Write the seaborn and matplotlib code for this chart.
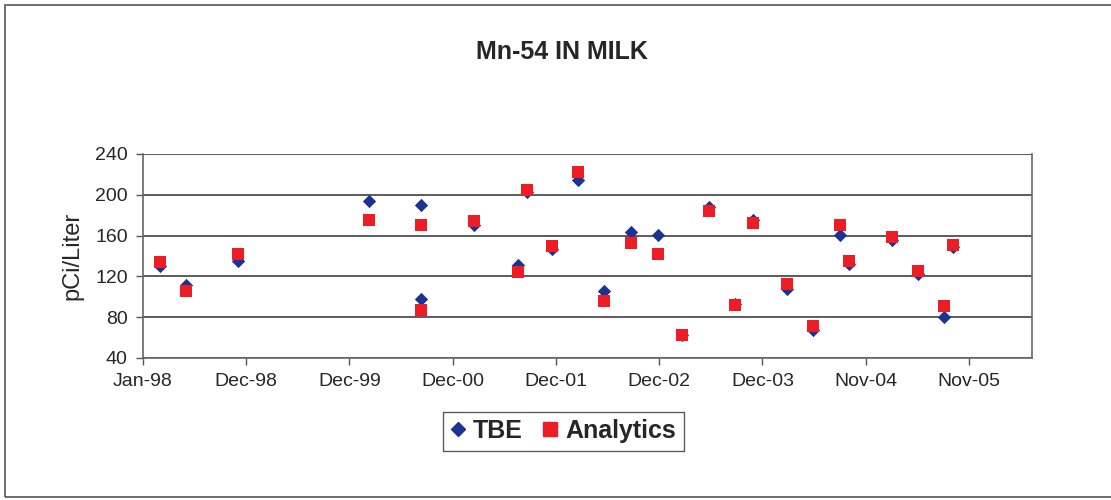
import pandas as pd
import matplotlib
matplotlib.use('Agg')
import matplotlib.pyplot as plt
import matplotlib.dates as mdates
from matplotlib.patches import Rectangle
from matplotlib.lines import Line2D
import seaborn as sns

# sample dates and results
sample_dates = ['1998-03-01', '1998-05-31', '1998-11-29', '2000-02-28', '2000-08-29',
                '2000-08-29', '2001-03-01', '2001-08-02', '2001-08-31', '2001-11-28',
                '2002-02-27', '2002-05-27', '2002-08-31', '2002-12-02', '2003-02-23',
                '2003-05-28', '2003-08-26', '2003-10-29', '2004-02-24', '2004-05-27',
                '2004-08-29', '2004-09-27', '2005-02-26', '2005-05-27', '2005-08-25',
                '2005-09-25']
tbe = [130, 112, 135, 194, 190, 98, 170, 131, 203, 147, 215, 106, 164,
       161, 63, 188, 93, 175, 108, 67, 161, 132, 156, 122, 80, 149]
analytics = [134, 106, 142, 175, 170, 87, 174, 124, 205, 150, 222, 96, 153,
             142, 63, 184, 92, 172, 113, 71, 170, 135, 159, 125, 91, 151]
y_ticks = [40, 80, 120, 160, 200, 240]

df = pd.DataFrame({'date': pd.to_datetime(sample_dates), 'TBE': tbe, 'Analytics': analytics})

sns.set_theme(style='white')
plt.rcParams['font.family'] = ['Liberation Sans', 'DejaVu Sans']

blue = '#1b3491'
red = '#ee1c25'

fig = plt.figure(figsize=(11.11, 5), dpi=100)
ax = fig.add_axes([0.1287, 0.284, 0.8002, 0.408])

# horizontal grid
for v in y_ticks:
    ax.axhline(v, color='#4f4f4f', lw=1.3, zorder=1)

sns.scatterplot(data=df, x='date', y='TBE', marker='D', s=46, color=blue,
                edgecolor=blue, linewidth=0, ax=ax, zorder=3)
sns.scatterplot(data=df, x='date', y='Analytics', marker='s', s=85, color=red,
                edgecolor=red, linewidth=0, ax=ax, zorder=4)

ax.set_ylim(40, 240)
ax.set_yticks(y_ticks)
ax.set_xlim(pd.Timestamp('1998-01-01'), pd.Timestamp('2006-06-28'))
ax.set_xticks(pd.date_range('1998-01-01', periods=9, freq='360D'))
ax.xaxis.set_major_formatter(mdates.DateFormatter('%b-%y'))

ax.tick_params(axis='both', labelsize=14, length=5, width=1, color='#555555',
               direction='out', bottom=True, left=True, pad=6)
for side in ['left', 'bottom', 'right']:
    ax.spines[side].set_color('#666666')
    ax.spines[side].set_linewidth(1.2)
ax.spines['top'].set_visible(False)

ax.set_xlabel('')
ax.set_ylabel('pCi/Liter', fontsize=17, labelpad=8)

fig.text(0.506, 0.896, 'Mn-54 IN MILK', ha='center', va='center',
         fontsize=18, fontweight='bold')

handles = [Line2D([], [], marker='D', color=blue, ls='none', markersize=7.5),
           Line2D([], [], marker='s', color=red, ls='none', markersize=9.5)]
leg = fig.legend(handles, ['TBE', 'Analytics'], loc='center', ncol=2,
                 bbox_to_anchor=(0.507, 0.138), frameon=True, fancybox=False,
                 prop={'weight': 'bold', 'size': 18}, handlelength=0.6,
                 handletextpad=0.3, columnspacing=0.8, borderpad=0.3,
                 borderaxespad=0)
leg.get_frame().set_edgecolor('#333333')
leg.get_frame().set_linewidth(1.0)

# chart border
fig.add_artist(Rectangle((0.0045, 0.006), 1.0, 0.984, transform=fig.transFigure,
                         fill=False, ec='#555555', lw=1.2))

fig.savefig('out.png', dpi=100)
